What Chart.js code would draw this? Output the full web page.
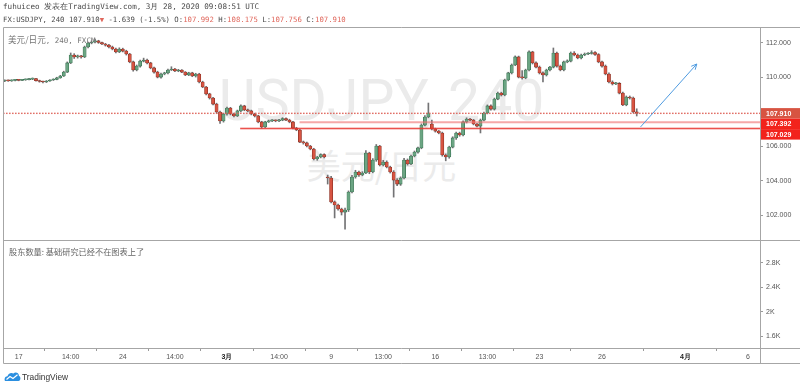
<!DOCTYPE html>
<html><head><meta charset="utf-8">
<script src="https://cdn.jsdelivr.net/npm/chart.js@4/dist/chart.umd.min.js"></script>
<style>
html,body{margin:0;padding:0;background:#fff;width:800px;height:388px;overflow:hidden;}
#wrap{position:relative;width:800px;height:388px;}
canvas{position:absolute;left:0;top:0;}
.t{position:absolute;white-space:nowrap;}
.mono{font-family:"DejaVu Sans Mono",monospace;}
#h1{left:3px;top:1px;font-size:7.6px;line-height:12px;color:#4a4a4a;}
#h2{left:3px;top:14px;font-size:7.3px;line-height:12px;color:#4a4a4a;}
.red{color:#e0675c;}
#leg{left:8px;top:33px;font-size:7.5px;line-height:12px;color:#777;}
#leg .cjk{font-family:"Noto Sans CJK SC";font-size:8.6px;}
#low{left:9px;top:245px;font-family:"Noto Sans CJK SC";font-size:8.2px;line-height:13px;color:#666;}
.wm{position:absolute;left:3px;width:757px;text-align:center;color:#ebebeb;white-space:nowrap;}
#wm1{top:72px;font-family:Roboto,sans-serif;font-size:57px;line-height:57px;}
#wm2{top:148px;font-family:"Noto Sans CJK SC";font-size:34px;line-height:34px;}
#logo{left:4px;top:370px;height:14px;}
#logo span{position:absolute;left:18px;top:0;font-family:"Liberation Sans",Arial,sans-serif;font-size:8.4px;line-height:14px;color:#333;}
</style></head>
<body><div id="wrap">
<div class="wm" id="wm1">USDJPY, 240</div>
<div class="wm" id="wm2">美元/日元</div>
<canvas id="c" width="800" height="388"></canvas>
<div class="t mono" id="h1">fuhuiceo 发表在TradingView.com, 3月 28, 2020 09:08:51 UTC</div>
<div class="t mono" id="h2">FX:USDJPY, 240 107.910<span class="red">▼</span> -1.639 (-1.5%) O:<span class="red">107.992</span> H:<span class="red">108.175</span> L:<span class="red">107.756</span> C:<span class="red">107.910</span></div>
<div class="t mono" id="leg"><span class="cjk">美元/日元</span>, 240, FXCM</div>
<div class="t" id="low">股东数量: 基础研究已经不在图表上了</div>
<div class="t" id="logo"><svg width="17" height="14" viewBox="0 0 17 14"><path d="M1 11 C0 9 1 6 3.5 6.2 C4 3.5 7 2 9.5 3.5 C11 1.8 15 2.5 15 6 C17 6.5 17 11 14.5 11 Z" fill="#2b8fe0"/><path d="M2.5 9.5 L6 6.5 L9 8.5 L13.5 4.8" stroke="#fff" stroke-width="1.2" fill="none"/></svg><span>TradingView</span></div>
</div>
<script>
// ---- data ----
const tickSlots  = [4, 19, 34, 49, 64, 79, 94, 109, 124, 139, 154, 172, 196, 214];
const tickLabels = ['17','14:00','24','14:00','3月','14:00','9','13:00','16','13:00','23','26','4月','6'];
const priceTicks = [102, 104, 106, 108, 110, 112];
const paneTicks = [1.6, 2.0, 2.4, 2.8];
const paneTickLabels = ['1.6K', '2K', '2.4K', '2.8K'];

const opens = [109.79,109.82,109.80,109.83,109.84,109.83,109.86,109.87,109.90,109.93,
109.81,109.76,109.73,109.79,109.85,109.88,109.97,110.08,110.31,110.84,
111.30,111.19,111.24,111.19,111.77,112.00,112.06,112.12,112.03,111.94,
111.88,111.77,111.65,111.48,111.65,111.53,111.36,110.90,110.43,110.66,
110.95,111.01,110.84,110.55,110.31,110.02,110.20,110.26,110.43,110.49,
110.37,110.43,110.31,110.14,110.26,110.08,110.20,109.73,109.44,109.04,
108.80,108.45,107.99,107.47,107.87,108.22,107.87,107.76,108.05,108.34,
108.11,108.05,107.87,107.76,107.41,107.12,107.41,107.47,107.49,107.47,
107.52,107.61,107.52,107.41,107.06,106.94,106.24,106.19,106.01,105.84,
105.26,105.37,105.52,104.21,104.15,102.76,102.58,102.35,102.17,102.29,
103.34,104.21,104.50,104.33,104.44,105.60,104.50,105.20,106.01,104.91,
105.08,104.79,104.50,104.03,103.80,104.15,105.20,104.97,105.43,105.66,
105.90,107.23,107.70,107.29,107.00,106.88,106.77,105.49,105.37,105.95,
106.48,106.77,106.65,107.41,107.58,107.52,107.29,107.17,107.52,107.93,
108.34,108.16,108.74,109.09,108.98,109.85,110.26,110.72,111.19,110.02,
109.97,110.43,111.48,110.84,110.60,110.26,110.14,110.43,110.60,111.42,
110.66,110.43,110.90,110.95,111.42,111.30,111.13,111.30,111.36,111.39,
111.45,111.33,110.90,110.66,110.20,109.73,109.62,109.65,109.09,108.40,
108.86,108.80,107.992];
const highs = [109.86,109.85,109.86,109.87,109.88,109.89,109.91,109.94,109.97,109.95,
109.84,109.79,109.82,109.88,109.92,110.01,110.12,110.36,110.90,111.42,
111.38,111.30,111.29,111.82,112.05,112.12,112.23,112.16,112.06,111.98,
111.92,111.82,111.70,111.72,111.70,111.58,111.40,110.95,110.72,111.00,
111.12,111.06,110.88,110.60,110.36,110.25,110.30,110.48,110.62,110.53,
110.47,110.46,110.34,110.30,110.30,110.24,110.24,109.78,109.48,109.08,
108.84,108.50,108.04,107.92,108.27,108.26,107.92,108.10,108.40,108.38,
108.16,108.10,107.92,107.80,107.45,107.45,107.52,107.55,107.53,107.56,
107.66,107.65,107.57,107.45,107.10,106.98,106.30,106.24,106.05,105.88,
105.41,105.56,105.56,104.32,104.25,102.82,102.64,102.40,102.40,103.40,
104.30,104.60,104.56,104.52,105.75,105.65,105.28,106.10,106.05,105.18,
105.15,104.84,104.58,104.12,104.22,105.30,105.26,105.48,105.72,105.95,
107.30,107.78,108.51,107.52,107.05,106.92,106.82,105.55,106.00,106.55,
106.82,106.82,107.48,107.65,107.62,107.56,107.33,107.58,107.98,108.40,
108.40,108.80,109.15,109.14,109.90,110.30,110.78,111.25,111.24,110.40,
110.48,111.55,111.52,110.90,110.66,110.32,110.48,110.65,111.71,111.47,
110.72,110.95,111.02,111.48,111.50,111.36,111.35,111.42,111.45,111.55,
111.50,111.38,110.95,110.72,110.26,109.80,109.72,109.70,109.14,108.92,
108.92,108.86,108.175];
const lows = [109.75,109.77,109.77,109.80,109.80,109.81,109.83,109.85,109.87,109.78,
109.72,109.68,109.70,109.76,109.82,109.86,109.95,110.05,110.28,110.80,
111.10,111.12,111.12,111.15,111.72,111.95,112.00,111.98,111.90,111.82,
111.72,111.60,111.42,111.44,111.48,111.30,110.85,110.36,110.38,110.60,
110.90,110.79,110.50,110.25,109.97,109.96,110.15,110.20,110.40,110.33,
110.33,110.27,110.10,110.10,110.04,110.02,109.68,109.40,108.98,108.74,
108.40,107.92,107.32,107.40,107.80,107.82,107.70,107.72,108.00,108.06,
108.00,107.82,107.70,107.36,107.05,107.08,107.38,107.43,107.42,107.43,
107.48,107.48,107.36,107.00,106.90,106.20,106.12,105.96,105.79,105.20,
105.18,105.32,105.32,103.80,102.70,101.83,102.28,102.00,101.18,102.20,
103.28,104.14,104.25,104.28,104.40,104.40,104.45,105.12,104.85,104.85,
104.74,104.44,103.04,103.70,103.72,104.10,104.90,104.92,105.38,105.60,
105.85,107.18,107.65,106.95,106.82,106.72,105.42,105.15,105.30,105.90,
106.40,106.58,106.60,107.35,107.47,107.24,107.12,106.77,107.47,107.88,
108.10,108.10,108.70,108.92,108.93,109.80,110.20,110.68,109.97,109.90,
109.92,110.38,110.78,110.55,110.20,109.73,110.08,110.38,110.55,110.60,
110.38,110.38,110.85,110.90,111.25,111.08,111.08,111.26,111.32,111.35,
111.28,110.85,110.60,110.15,109.68,109.56,109.58,109.04,108.35,108.35,
108.74,107.94,107.756];
const closes = [109.82,109.80,109.83,109.84,109.83,109.86,109.87,109.90,109.93,109.81,
109.76,109.73,109.79,109.85,109.88,109.97,110.08,110.31,110.84,111.30,
111.19,111.24,111.19,111.77,112.00,112.06,112.12,112.03,111.94,111.88,
111.77,111.65,111.48,111.65,111.53,111.36,110.90,110.43,110.66,110.95,
111.01,110.84,110.55,110.31,110.02,110.20,110.26,110.43,110.49,110.37,
110.43,110.31,110.14,110.26,110.08,110.20,109.73,109.44,109.04,108.80,
108.45,107.99,107.47,107.87,108.22,107.87,107.76,108.05,108.34,108.11,
108.05,107.87,107.76,107.41,107.12,107.41,107.47,107.49,107.47,107.52,
107.61,107.52,107.41,107.06,106.94,106.24,106.19,106.01,105.84,105.26,
105.37,105.52,105.37,104.15,102.76,102.58,102.35,102.17,102.29,103.34,
104.21,104.50,104.33,104.44,105.60,104.50,105.20,106.01,104.91,105.08,
104.79,104.50,104.03,103.80,104.15,105.20,104.97,105.43,105.66,105.90,
107.23,107.70,107.93,107.00,106.88,106.77,105.49,105.37,105.95,106.48,
106.77,106.65,107.41,107.58,107.52,107.29,107.17,107.52,107.93,108.34,
108.16,108.74,109.09,108.98,109.85,110.26,110.72,111.19,110.02,109.97,
110.43,111.48,110.84,110.60,110.26,110.14,110.43,110.60,111.42,110.66,
110.43,110.90,110.95,111.42,111.30,111.13,111.30,111.36,111.39,111.45,
111.33,110.90,110.66,110.20,109.73,109.62,109.65,109.09,108.40,108.86,
108.80,107.99,107.910];
// opens that gap after the weekend / session break
opens[93] = 104.21; opens[123] = 107.29;

// horizontal levels: price, first slot of the line
const levelPrices = [107.910, 107.392, 107.029];
const levelStartSlots = [-0.5, 84.9, 67.8];
// trend arrow (slot, price)
const arrowFrom = [183.1, 107.12];
const arrowTo = [199.3, 110.78];

// ---- chart ----
const upFill='#6ba583', dnFill='#d75442', upLine='#2f6a48', dnLine='#7e2a1f';
const isUp = closes.map((c,i)=>c>=opens[i]);
const levelColors = ['rgba(222,96,86,0.9)', 'rgba(238,110,110,0.6)', 'rgba(232,52,46,0.85)'];
const levelWidths = [1, 2, 1.6];

const overlay = {
  id:'overlay',
  afterDatasetsDraw(chart){
    const {ctx, chartArea:a, scales:{x, y}} = chart;
    ctx.save();
    levelPrices.forEach((p,i)=>{
      const py = y.getPixelForValue(p);
      const x0 = x.getPixelForValue(levelStartSlots[i]);
      ctx.fillStyle = levelColors[i];
      if(i===0){
        for(let xx = x0; xx < a.right; xx += 3){ ctx.fillRect(xx, py - 0.7, 1.6, 1.4); }
      } else {
        ctx.fillRect(x0, py - levelWidths[i]/2, a.right - x0, levelWidths[i]);
      }
    });
    const ax0 = x.getPixelForValue(arrowFrom[0]), ay0 = y.getPixelForValue(arrowFrom[1]);
    const ax1 = x.getPixelForValue(arrowTo[0]), ay1 = y.getPixelForValue(arrowTo[1]);
    ctx.setLineDash([]);
    ctx.strokeStyle='#4f9be0'; ctx.lineWidth=1;
    ctx.beginPath(); ctx.moveTo(ax0, ay0); ctx.lineTo(ax1, ay1); ctx.stroke();
    const ang = Math.atan2(ay1-ay0, ax1-ax0);
    ctx.beginPath();
    ctx.moveTo(ax1 - 6*Math.cos(ang-0.45), ay1 - 6*Math.sin(ang-0.45));
    ctx.lineTo(ax1, ay1);
    ctx.lineTo(ax1 - 6*Math.cos(ang+0.45), ay1 - 6*Math.sin(ang+0.45));
    ctx.stroke();
    ctx.restore();
  },
  afterDraw(chart){
    const {ctx, chartArea:a, scales:{x, y, yv}} = chart;
    ctx.save();
    ctx.setLineDash([]);
    ctx.strokeStyle='#a6a6a6'; ctx.lineWidth=1;
    const L = Math.floor(a.left)+0.5, R = Math.round(a.right)+0.5, W = chart.width;
    const T = Math.round(a.top)-0.5, B = Math.round(a.bottom)+0.5, AB = Math.round(x.bottom)-0.5;
    const S = Math.round(yv.top)+0.5;
    ctx.beginPath();
    ctx.moveTo(L, T); ctx.lineTo(W, T);
    ctx.moveTo(L, S); ctx.lineTo(W, S);
    ctx.moveTo(L, B); ctx.lineTo(W, B);
    ctx.moveTo(L, AB); ctx.lineTo(W, AB);
    ctx.moveTo(L, T); ctx.lineTo(L, AB);
    ctx.moveTo(R, T); ctx.lineTo(R, AB);
    ctx.stroke();
    const h = 10.5; let prevBottom = -1e9;
    const fills = ['#d75442', '#f2231c', '#f2231c'];
    ctx.font = 'bold 7px "Liberation Sans", Arial';
    ctx.textBaseline = 'middle'; ctx.textAlign = 'left';
    levelPrices.forEach((p,i)=>{
      let cy = y.getPixelForValue(p);
      cy = Math.max(cy, prevBottom + h/2);
      const top = cy - h/2;
      ctx.fillStyle = fills[i];
      ctx.fillRect(Math.round(a.right)+1, top, W - Math.round(a.right) - 1, h);
      prevBottom = top + h;
      ctx.fillStyle = '#fff';
      ctx.fillText(p.toFixed(3), Math.round(a.right)+6, cy+0.5);
    });
    ctx.restore();
  }
};

new Chart(document.getElementById('c'), {
  type:'bar',
  data:{datasets:[
    {label:'body', data: opens.map((o,i)=>({x:i, y:[o, closes[i]]})),
     backgroundColor: isUp.map(u=>u?upFill:dnFill), borderColor: isUp.map(u=>u?upLine:dnLine),
     borderWidth:0.6, borderSkipped:false, barThickness:3.2, minBarLength:1, grouped:false, order:0, yAxisID:'y', xAxisID:'x'},
    {label:'wick', data: opens.map((o,i)=>({x:i, y:[lows[i], highs[i]]})),
     backgroundColor:'#737375', borderWidth:0, barThickness:1, grouped:false, order:1, yAxisID:'y', xAxisID:'x'}
  ]},
  options:{
    responsive:false, animation:false, events:[],
    plugins:{legend:{display:false}, tooltip:{enabled:false}},
    layout:{padding:{left:3, top:28, right:0, bottom:24}},
    scales:{
      x:{type:'linear', position:'bottom', min:-0.5, max:217.5, offset:false,
        afterBuildTicks:s=>{ s.ticks = tickSlots.map(v=>({value:v})); },
        afterFit:s=>{ s.height = 16; },
        ticks:{autoSkip:false, maxRotation:0, padding:2,
          callback:(v,i)=>tickLabels[i],
          color:ctx=>/月/.test(tickLabels[ctx.index])?'#222':'#555',
          font:ctx=>({size:7, family:'"Liberation Sans", Arial', weight:/月/.test(tickLabels[ctx.index])?'bold':'normal'})},
        grid:{drawOnChartArea:false, drawTicks:true, tickLength:3, color:'#9a9a9a'},
        border:{display:false}},
      y:{type:'linear', position:'right', stack:'pane', stackWeight:212, weight:1,
        min:100.547, max:112.872,
        afterBuildTicks:s=>{ s.ticks = priceTicks.map(v=>({value:v})); },
        afterFit:s=>{ s.width = 40; },
        ticks:{callback:v=>v.toFixed(3), color:'#555', padding:3, font:{size:7, family:'"Liberation Sans", Arial'}},
        grid:{drawOnChartArea:false, tickLength:3, color:'#9a9a9a'},
        border:{display:false}},
      yv:{type:'linear', position:'right', stack:'pane', stackWeight:108, weight:2,
        min:1.403, max:3.178,
        afterBuildTicks:s=>{ s.ticks = paneTicks.map(v=>({value:v})); },
        afterFit:s=>{ s.width = 40; },
        ticks:{callback:(v,i)=>paneTickLabels[i], color:'#555', padding:3, font:{size:7, family:'"Liberation Sans", Arial'}},
        grid:{drawOnChartArea:false, tickLength:3, color:'#9a9a9a'},
        border:{display:false}}
    }
  },
  plugins:[overlay]
});
</script>
</body></html>
